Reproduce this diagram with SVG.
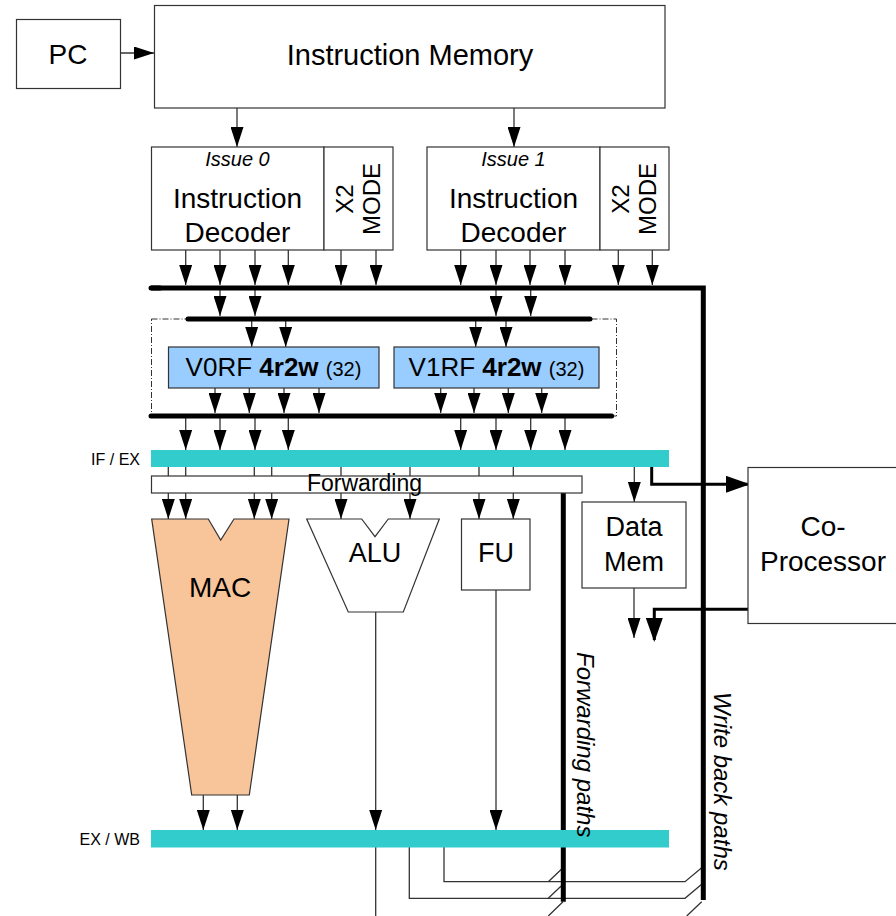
<svg xmlns="http://www.w3.org/2000/svg" width="896" height="916" viewBox="0 0 896 916">
<defs>
<style>
.box{fill:#fff;stroke:#333;stroke-width:1.2}
.t{font-family:"Liberation Sans",Arial,sans-serif;fill:#000}
.ln{fill:none;stroke:#333;stroke-width:1.3}
.ar{fill:none;stroke:#333;stroke-width:1.3;marker-end:url(#ah)}
.bus{fill:none;stroke:#000;stroke-width:5;stroke-linecap:round}
.thk{fill:none;stroke:#000;stroke-width:3;marker-end:url(#ahb)}
.reg{fill:#33CCCC}
.rf{fill:#99CCFF;stroke:#333;stroke-width:1.2}
</style>
<marker id="ah" markerUnits="userSpaceOnUse" markerWidth="20" markerHeight="13" refX="20" refY="6.5" orient="auto"><path d="M0,0 L20,6.5 L0,13 z" fill="#000"/></marker>
<marker id="ahb" markerUnits="userSpaceOnUse" markerWidth="24" markerHeight="17" refX="22" refY="8.5" orient="auto"><path d="M0,0 L24,8.5 L0,17 z" fill="#000"/></marker>
</defs>
<rect width="896" height="916" fill="#fff"/>

<g id="connectors">
<path class="ar" d="M120,53 H154"/>
<path class="ar" d="M237,108 V147"/>
<path class="ar" d="M514,108 V147"/>
<path class="ar" d="M185.7,250 V285"/>
<path class="ar" d="M220,250 V285"/>
<path class="ar" d="M255,250 V285"/>
<path class="ar" d="M288.3,250 V285"/>
<path class="ar" d="M341,250 V285"/>
<path class="ar" d="M376,250 V285"/>
<path class="ar" d="M460.7,250 V285"/>
<path class="ar" d="M496,250 V285"/>
<path class="ar" d="M530,250 V285"/>
<path class="ar" d="M565,250 V285"/>
<path class="ar" d="M618.3,250 V285"/>
<path class="ar" d="M652.3,250 V285"/>
<path class="ar" d="M220,288 V316"/>
<path class="ar" d="M255,288 V316"/>
<path class="ar" d="M496,288 V316"/>
<path class="ar" d="M530.7,288 V316"/>
<path class="ar" d="M251.7,319 V347"/>
<path class="ar" d="M285.7,319 V347"/>
<path class="ar" d="M475.7,319 V347"/>
<path class="ar" d="M506,319 V347"/>
<path class="ar" d="M215,388 V413"/>
<path class="ar" d="M249.3,388 V413"/>
<path class="ar" d="M284,388 V413"/>
<path class="ar" d="M319,388 V413"/>
<path class="ar" d="M440.7,388 V413"/>
<path class="ar" d="M474,388 V413"/>
<path class="ar" d="M508.3,388 V413"/>
<path class="ar" d="M541.7,388 V413"/>
<path class="ar" d="M185.7,416 V450"/>
<path class="ar" d="M220,416 V450"/>
<path class="ar" d="M255,416 V450"/>
<path class="ar" d="M288.3,416 V450"/>
<path class="ar" d="M460.7,416 V450"/>
<path class="ar" d="M496,416 V450"/>
<path class="ar" d="M530.7,416 V450"/>
<path class="ar" d="M565,416 V450"/>
<path class="ar" d="M168.3,467 V519"/>
<path class="ar" d="M185.7,467 V519"/>
<path class="ar" d="M254.3,467 V519"/>
<path class="ar" d="M271.7,467 V519"/>
<path class="ar" d="M341,467 V519"/>
<path class="ar" d="M410,467 V519"/>
<path class="ar" d="M479,467 V519"/>
<path class="ar" d="M513.3,467 V519"/>
<path class="ar" d="M634.3,467 V502"/>
<path class="ar" d="M203.3,795 V830"/>
<path class="ar" d="M237.3,795 V830"/>
<path class="ar" d="M375.7,612 V830"/>
<path class="ar" d="M496,590 V830"/>
<path class="ar" d="M634,588 V638"/>
<path class="ln" d="M375.7,847 V916"/>
<path class="ln" d="M409.3,847 V898.3 H685 L701.7,884.3"/>
<path class="ln" d="M444,847 V881.7 H685 L701.7,867.7"/>
<path class="ln" d="M548.3,881.7 L563,867.7 M548.3,898.3 L563,884.3 M548.3,916 L563,901.7 M686.7,916 L701.7,901.7"/>
<rect x="151.5" y="319" width="465" height="97" fill="none" stroke="#333" stroke-width="1" stroke-dasharray="6,2,1,2"/>
<path class="bus" d="M151,288 H703.3 V900" stroke-linejoin="miter" style="stroke-linecap:butt"/>
<path class="bus" d="M151,288 H160"/>
<path class="bus" d="M188,319 H590"/>
<path class="bus" d="M151,416 H611.7"/>
<path fill="none" stroke="#000" stroke-width="5" d="M563.3,493 V901.7"/>
<path class="thk" d="M651.7,467 V484.3 H748"/>
<path class="thk" d="M748,609.3 H654.3 V640"/>
</g>

<g id="pc"><rect class="box" x="16.5" y="19.5" width="104" height="69"/><text class="t" x="68" y="64" font-size="28" text-anchor="middle">PC</text></g>
<g id="imem"><rect class="box" x="154.5" y="5.5" width="510.5" height="102.5"/><text class="t" x="410" y="65" font-size="29" text-anchor="middle">Instruction Memory</text></g>

<g id="dec0">
<rect class="box" x="151.5" y="147" width="172.5" height="103"/>
<text class="t" x="237.5" y="166" font-size="20" font-style="italic" text-anchor="middle">Issue 0</text>
<text class="t" x="237.5" y="208" font-size="28" text-anchor="middle">Instruction</text>
<text class="t" x="237.5" y="242" font-size="28" text-anchor="middle">Decoder</text>
</g>
<g id="x2mode0">
<rect class="box" x="324" y="147" width="69" height="103"/>
<text class="t" font-size="24" text-anchor="middle" transform="translate(353,199) rotate(-90)">X2</text>
<text class="t" font-size="24" text-anchor="middle" transform="translate(380,199) rotate(-90)">MODE</text>
</g>
<g id="dec1">
<rect class="box" x="427" y="147" width="173" height="103"/>
<text class="t" x="513.5" y="166" font-size="20" font-style="italic" text-anchor="middle">Issue 1</text>
<text class="t" x="513.5" y="208" font-size="28" text-anchor="middle">Instruction</text>
<text class="t" x="513.5" y="242" font-size="28" text-anchor="middle">Decoder</text>
</g>
<g id="x2mode1">
<rect class="box" x="600" y="147" width="69" height="103"/>
<text class="t" font-size="24" text-anchor="middle" transform="translate(629,199) rotate(-90)">X2</text>
<text class="t" font-size="24" text-anchor="middle" transform="translate(656,199) rotate(-90)">MODE</text>
</g>

<g id="v0rf">
<rect class="rf" x="168.5" y="347" width="210.5" height="41"/>
<text class="t" x="273.5" y="376" font-size="26" text-anchor="middle">V0RF <tspan font-weight="bold">4r2w</tspan> <tspan font-size="20">(32)</tspan></text>
</g>
<g id="v1rf">
<rect class="rf" x="394" y="347" width="205" height="41"/>
<text class="t" x="496.5" y="376" font-size="26" text-anchor="middle">V1RF <tspan font-weight="bold">4r2w</tspan> <tspan font-size="20">(32)</tspan></text>
</g>

<g id="ifex">
<rect class="reg" x="151" y="450" width="518" height="17"/>
<text class="t" x="140" y="465" font-size="16" text-anchor="end">IF / EX</text>
</g>
<g id="forwarding">
<rect class="box" x="151.5" y="476" width="430.5" height="17"/>
<text class="t" x="307" y="491" font-size="23">Forwarding</text>
</g>

<g id="mac">
<path d="M151.7,519 H208.3 L220.7,540 L234,519 H289 L249.3,795 H191.7 Z" fill="#F8C59A" stroke="#333" stroke-width="1.2"/>
<text class="t" x="220" y="597" font-size="28" text-anchor="middle">MAC</text>
</g>
<g id="alu">
<path d="M306.7,519 H361.7 L375,536.7 L388.3,519 H439.3 L403.3,612 H348.3 Z" fill="#fff" stroke="#333" stroke-width="1.2"/>
<text class="t" x="375" y="562" font-size="27" text-anchor="middle">ALU</text>
</g>
<g id="fu">
<rect class="box" x="461.5" y="519" width="68.5" height="71"/>
<text class="t" x="496" y="562" font-size="27" text-anchor="middle">FU</text>
</g>
<g id="datamem">
<rect class="box" x="582" y="502" width="104" height="86"/>
<text class="t" x="634" y="536" font-size="27" text-anchor="middle">Data</text>
<text class="t" x="634" y="571" font-size="27" text-anchor="middle">Mem</text>
</g>
<g id="coproc">
<rect class="box" x="748" y="467.5" width="160" height="156"/>
<text class="t" x="823" y="536" font-size="28" text-anchor="middle">Co-</text>
<text class="t" x="823" y="571" font-size="28" text-anchor="middle">Processor</text>
</g>

<g id="exwb">
<rect class="reg" x="151" y="830" width="518" height="17.5"/>
<text class="t" x="140" y="845" font-size="16" text-anchor="end">EX / WB</text>
</g>

<g id="labels">
<text class="t" font-size="24" font-style="italic" transform="translate(577,652) rotate(90)">Forwarding paths</text>
<text class="t" font-size="24" font-style="italic" transform="translate(714,692) rotate(90)">Write back paths</text>
</g>
</svg>
